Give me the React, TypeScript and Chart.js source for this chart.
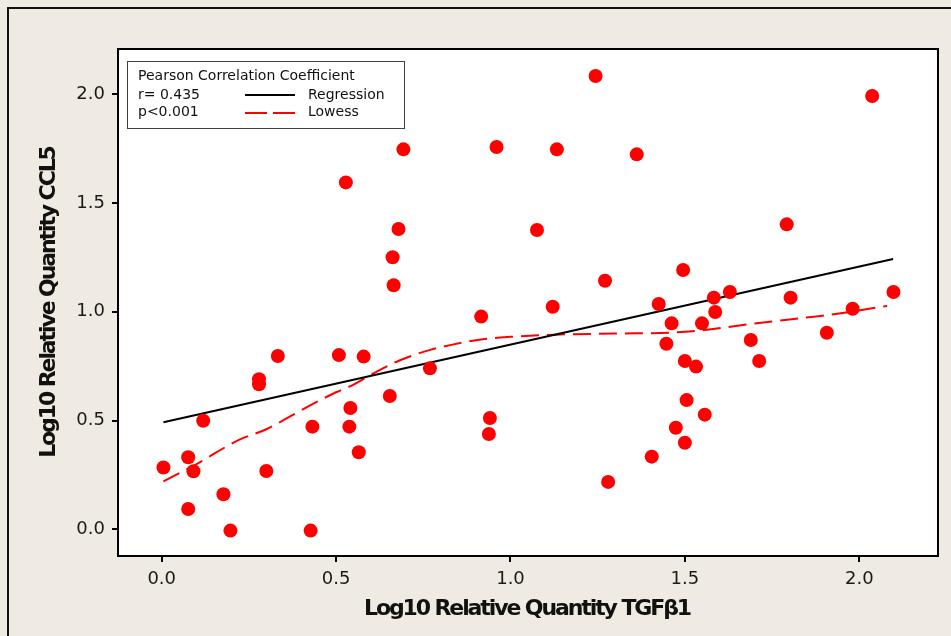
import React, { useEffect, useRef } from "react";
import { Chart, registerables } from "chart.js";

Chart.register(...registerables);

// ---- data ----
const sampleX = [
  0.005, 0.076, 0.091, 0.076, 0.119, 0.177, 0.197, 0.279, 0.279, 0.3,
  0.333, 0.427, 0.432, 0.508, 0.528, 0.541, 0.538, 0.565, 0.579, 0.654,
  0.662, 0.665, 0.679, 0.693, 0.769, 0.916, 0.941, 0.938, 0.96, 1.076,
  1.121, 1.133, 1.244, 1.271, 1.28, 1.362, 1.405, 1.425, 1.447, 1.462,
  1.474, 1.495, 1.5, 1.505, 1.5, 1.532, 1.549, 1.557, 1.583, 1.587,
  1.629, 1.689, 1.713, 1.792, 1.803, 1.907, 1.981, 2.037, 2.098,
];
const sampleY = [
  0.284, 0.331, 0.267, 0.093, 0.499, 0.161, -0.006, 0.69, 0.667, 0.268,
  0.797, -0.006, 0.472, 0.801, 1.595, 0.558, 0.472, 0.354, 0.794, 0.613,
  1.251, 1.122, 1.381, 1.747, 0.74, 0.978, 0.512, 0.438, 1.758, 1.376,
  1.023, 1.747, 2.084, 1.143, 0.218, 1.724, 0.334, 1.036, 0.853, 0.947,
  0.467, 1.192, 0.398, 0.594, 0.774, 0.748, 0.947, 0.527, 1.065, 0.999,
  1.091, 0.87, 0.774, 1.402, 1.065, 0.904, 1.014, 1.992, 1.091,
];
const regressionX = [0.005, 2.097];
const regressionY = [0.492, 1.243];
const lowessX = [
  0.005, 0.1, 0.22, 0.3, 0.42, 0.5, 0.55, 0.6, 0.68, 0.77, 0.83, 0.92,
  1.0, 1.13, 1.3, 1.47, 1.55, 1.69, 1.8, 1.91, 2.08,
];
const lowessY = [
  0.22, 0.3, 0.41, 0.46, 0.565, 0.63, 0.665, 0.71, 0.775, 0.825, 0.848,
  0.874, 0.885, 0.895, 0.9, 0.905, 0.915, 0.944, 0.965, 0.985, 1.027,
];
const xTicks = [0, 0.5, 1.0, 1.5, 2.0];
const yTicks = [0, 0.5, 1.0, 1.5, 2.0];
const xTitle = "Log10 Relative Quantity TGFβ1";
const yTitle = "Log10 Relative Quantity CCL5";
const legendTitle = "Pearson Correlation Coefficient";
const legendStats = ["r= 0.435", "p<0.001"];
const seriesNames = ["Regression", "Lowess"];

const FONT = "'DejaVu Sans', sans-serif";
const BG = "#efebe2";
const RED = "#ff0000";

const framePlugin = {
  id: "frame",
  beforeDraw(chart: any) {
    const { ctx, chartArea: a, width, height } = chart;
    ctx.save();
    ctx.fillStyle = BG;
    ctx.fillRect(0, 0, width, height);
    ctx.strokeStyle = "#111";
    ctx.lineWidth = 2;
    ctx.strokeRect(8, 8, width + 20, height + 20);
    ctx.fillStyle = "#ffffff";
    ctx.fillRect(a.left, a.top, a.right - a.left, a.bottom - a.top);
    ctx.restore();
  },
  afterDraw(chart: any) {
    const { ctx, chartArea: a } = chart;
    ctx.save();
    // plot border
    ctx.strokeStyle = "#000";
    ctx.lineWidth = 2;
    ctx.strokeRect(a.left, a.top, a.right - a.left, a.bottom - a.top);

    // axis titles
    ctx.fillStyle = "#111";
    ctx.font = `bold 22px ${FONT}`;
    (ctx as any).letterSpacing = "-2.1px";
    ctx.textAlign = "center";
    ctx.textBaseline = "alphabetic";
    ctx.fillText(xTitle, (a.left + a.right) / 2 - 1, 614.5);
    ctx.save();
    ctx.translate(54.5, (a.top + a.bottom) / 2);
    ctx.rotate(-Math.PI / 2);
    ctx.fillText(yTitle, 0, 0);
    ctx.restore();
    (ctx as any).letterSpacing = "0px";

    // legend box
    const bx = a.left + 9.5;
    const by = a.top + 12.5;
    ctx.strokeStyle = "#404040";
    ctx.lineWidth = 1;
    ctx.strokeRect(bx, by, 277, 67);
    ctx.fillStyle = "#111";
    ctx.font = `14px ${FONT}`;
    ctx.textAlign = "left";
    ctx.fillText(legendTitle, a.left + 20, a.top + 31);
    ctx.fillText(legendStats[0], a.left + 20, a.top + 49.5);
    ctx.fillText(legendStats[1], a.left + 20, a.top + 66.5);
    ctx.fillText(seriesNames[0], a.left + 190, a.top + 50);
    ctx.fillText(seriesNames[1], a.left + 190, a.top + 67);
    ctx.lineWidth = 2;
    ctx.strokeStyle = "#000";
    ctx.beginPath();
    ctx.moveTo(a.left + 127, a.top + 46);
    ctx.lineTo(a.left + 177, a.top + 46);
    ctx.stroke();
    ctx.strokeStyle = RED;
    ctx.setLineDash([22, 6]);
    ctx.beginPath();
    ctx.moveTo(a.left + 127, a.top + 64);
    ctx.lineTo(a.left + 177, a.top + 64);
    ctx.stroke();
    ctx.setLineDash([]);
    ctx.restore();
  },
};

export default function App() {
  const ref = useRef<HTMLCanvasElement | null>(null);

  useEffect(() => {
    if (!ref.current) return;
    Chart.defaults.font.family = FONT;
    const points = sampleX.map((x, i) => ({ x, y: sampleY[i] }));
    const reg = regressionX.map((x, i) => ({ x, y: regressionY[i] }));
    const low = lowessX.map((x, i) => ({ x, y: lowessY[i] }));

    const axisCommon = {
      type: "linear" as const,
      grid: {
        drawOnChartArea: false,
        drawTicks: true,
        tickLength: 6,
        color: "#000",
        lineWidth: 2,
      },
      border: { display: false },
    };

    const chart = new Chart(ref.current, {
      type: "scatter",
      data: {
        datasets: [
          {
            label: "Samples",
            data: points,
            pointRadius: 7,
            pointHoverRadius: 7,
            backgroundColor: RED,
            borderWidth: 0,
            showLine: false,
          },
          {
            label: seriesNames[0],
            data: reg,
            showLine: true,
            borderColor: "#000",
            borderWidth: 2,
            pointRadius: 0,
          },
          {
            label: seriesNames[1],
            data: low,
            showLine: true,
            borderColor: RED,
            borderWidth: 2,
            borderDash: [18, 8],
            pointRadius: 0,
            cubicInterpolationMode: "monotone",
          },
        ],
      },
      options: {
        animation: false,
        responsive: false,
        events: [],
        layout: {
          autoPadding: false,
          padding: { left: 0, top: 49, right: 13, bottom: 0 },
        },
        plugins: {
          legend: { display: false },
          tooltip: { enabled: false },
        },
        scales: {
          x: {
            ...axisCommon,
            position: "bottom",
            min: -0.1253,
            max: 2.2257,
            afterBuildTicks: (s: any) => {
              s.ticks = xTicks.map((v) => ({ value: v }));
            },
            afterFit: (s: any) => {
              s.height = 80;
            },
            ticks: {
              font: { size: 18, family: FONT },
              color: "#1a1a1a",
              padding: 7,
              maxRotation: 0,
              callback: (v: any) => Number(v).toFixed(1),
            },
          },
          y: {
            ...axisCommon,
            position: "left",
            min: -0.1228,
            max: 2.2083,
            afterBuildTicks: (s: any) => {
              s.ticks = yTicks.map((v) => ({ value: v }));
            },
            afterFit: (s: any) => {
              s.width = 118;
            },
            ticks: {
              font: { size: 18, family: FONT },
              color: "#1a1a1a",
              padding: 7,
              callback: (v: any) => Number(v).toFixed(1),
            },
          },
        },
      } as any,
      plugins: [framePlugin],
    });
    return () => chart.destroy();
  }, []);

  return (
    <div style={{ position: "absolute", left: 0, top: 0, width: 951, height: 636 }}>
      <canvas ref={ref} width={951} height={636} style={{ display: "block" }} />
    </div>
  );
}
